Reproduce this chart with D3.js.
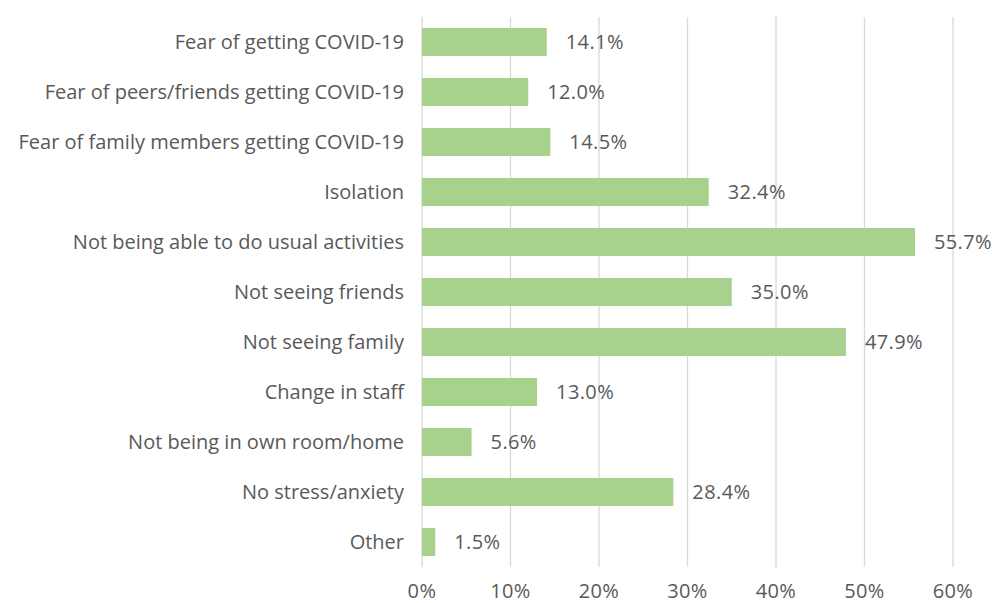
<!DOCTYPE html>
<html><head><meta charset="utf-8">
<script src="https://cdn.jsdelivr.net/npm/d3@7"></script>
<style>body{margin:0;background:#fff;}svg{display:block;}</style>
</head><body>
<script>
const categories = ["Fear of getting COVID-19","Fear of peers/friends getting COVID-19","Fear of family members getting COVID-19","Isolation","Not being able to do usual activities","Not seeing friends","Not seeing family","Change in staff","Not being in own room/home","No stress/anxiety","Other"];
const values = [14.1,12.0,14.5,32.4,55.7,35.0,47.9,13.0,5.6,28.4,1.5];
const ticks = [0,10,20,30,40,50,60];

const W=992,H=603;
const svg=d3.select("body").append("svg").attr("width",W).attr("height",H);
const x=d3.scaleLinear().domain([0,60]).range([422,953]);
const y=d3.scaleBand().domain(categories).range([17,567]).paddingInner(0.44).paddingOuter(0.22);
const font="'Open Sans', 'Noto Sans', sans-serif";
const col="#595959";

svg.append("g").selectAll("line").data(ticks).join("line")
 .attr("x1",d=>x(d)).attr("x2",d=>x(d)).attr("y1",17).attr("y2",567)
 .attr("stroke","#d9d9d9").attr("stroke-width",1.3);

svg.append("g").selectAll("rect").data(values).join("rect")
 .attr("x",x(0)).attr("y",(d,i)=>y(categories[i])).attr("width",d=>x(d)-x(0)).attr("height",y.bandwidth())
 .attr("fill","#a9d18e");

svg.append("g").selectAll("text").data(values).join("text")
 .attr("x",d=>x(d)+19).attr("y",(d,i)=>y(categories[i])+y.bandwidth()/2).attr("dy","0.36em")
 .attr("font-family",font).attr("font-size",20).attr("letter-spacing",0.4).attr("fill",col).text(d=>d.toFixed(1)+"%");

svg.append("g").selectAll("text").data(categories).join("text")
 .attr("x",404).attr("y",d=>y(d)+y.bandwidth()/2).attr("dy","0.36em").attr("text-anchor","end")
 .attr("font-family",font).attr("font-size",20).attr("fill",col).text(d=>d);

svg.append("g").selectAll("text").data(ticks).join("text")
 .attr("x",d=>x(d)).attr("y",591).attr("dy","0.36em").attr("text-anchor","middle")
 .attr("font-family",font).attr("font-size",20).attr("letter-spacing",0.4).attr("fill",col).text(d=>d+"%");
</script>
</body></html>
